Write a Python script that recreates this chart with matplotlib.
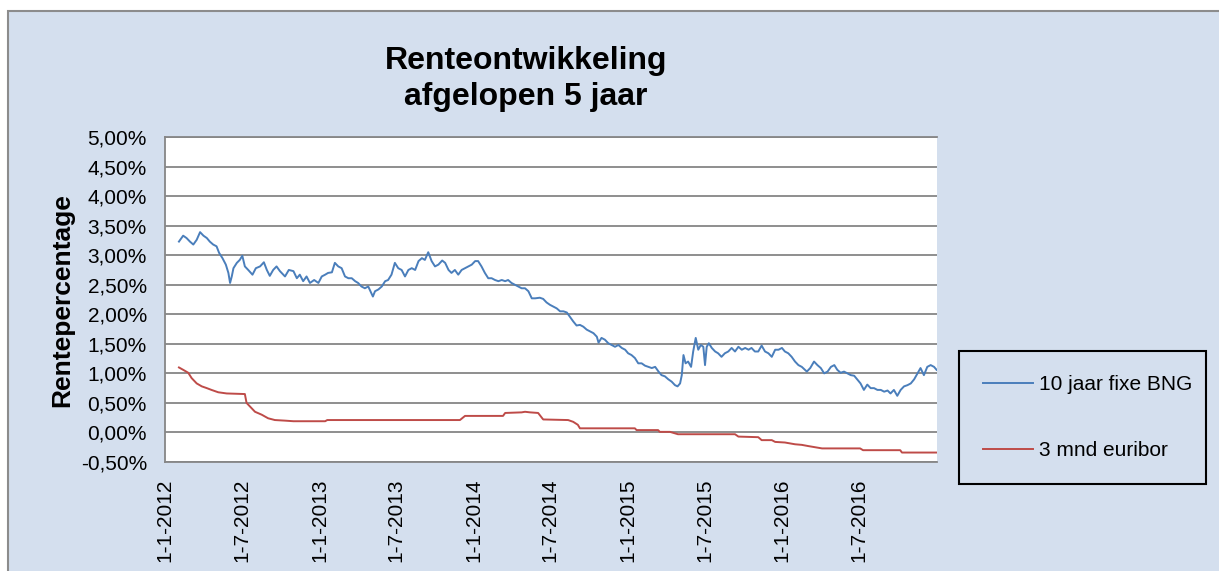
import numpy as np
import pandas as pd
import matplotlib
matplotlib.use("Agg")
import matplotlib.pyplot as plt
from matplotlib.patches import Rectangle
from matplotlib.ticker import FuncFormatter

plt.rcParams['font.family'] = ['Liberation Sans', 'DejaVu Sans']

# days since 1-1-2012 and rate in %
bng_days = [33, 43, 51, 59, 67, 75, 83, 91, 99, 106, 114, 122, 128, 136, 144, 150, 154, 158, 162, 170,
            177, 183, 189, 197, 207, 215, 225, 234, 241, 248, 256, 264, 272, 284, 293, 304, 312, 319, 327, 335,
            343, 353, 363, 371, 379, 386, 395, 402, 410, 418, 426, 434, 442, 450, 457, 465, 473, 481, 492, 497,
            505, 513, 521, 528, 536, 544, 552, 560, 568, 576, 584, 592, 600, 608, 615, 623, 631, 639, 647, 656,
            663, 671, 678, 686, 694, 702, 710, 718, 726, 734, 741, 749, 757, 765, 773, 781, 789, 797, 805, 812,
            820, 828, 836, 844, 852, 860, 868, 876, 887, 895, 903, 911, 919, 927, 935, 943, 951, 958, 966, 974,
            982, 990, 998, 1006, 1014, 1022, 1026, 1033, 1041, 1049, 1057, 1065, 1073, 1081, 1089, 1096, 1104, 1112, 1120, 1128,
            1136, 1144, 1152, 1160, 1168, 1175, 1183, 1191, 1199, 1207, 1213, 1219, 1223, 1227, 1232, 1238, 1245, 1250, 1256, 1262,
            1268, 1274, 1278, 1282, 1287, 1294, 1302, 1309, 1317, 1325, 1333, 1341, 1349, 1357, 1365, 1373, 1381, 1388, 1396, 1404,
            1412, 1420, 1428, 1436, 1444, 1452, 1460, 1467, 1475, 1483, 1491, 1499, 1507, 1519, 1527, 1536, 1544, 1552, 1560, 1568,
            1576, 1584, 1591, 1599, 1607, 1615, 1623, 1631, 1639, 1646, 1654, 1662, 1670, 1678, 1686, 1694, 1702, 1710, 1717, 1725,
            1733, 1741, 1749, 1757, 1765, 1773, 1781, 1788, 1796, 1804, 1812, 1820, 1826]
bng_rate = [3.23, 3.33, 3.29, 3.23, 3.18, 3.26, 3.39, 3.33, 3.29, 3.23, 3.18, 3.15, 3.04, 2.95, 2.84, 2.70, 2.53, 2.64, 2.78, 2.87,
            2.92, 2.99, 2.81, 2.75, 2.67, 2.78, 2.81, 2.88, 2.75, 2.65, 2.75, 2.81, 2.73, 2.64, 2.75, 2.73, 2.61, 2.67, 2.56, 2.64,
            2.53, 2.58, 2.53, 2.64, 2.67, 2.70, 2.71, 2.87, 2.81, 2.78, 2.64, 2.61, 2.61, 2.56, 2.53, 2.47, 2.44, 2.47, 2.30, 2.39,
            2.42, 2.47, 2.56, 2.58, 2.67, 2.87, 2.78, 2.75, 2.64, 2.75, 2.78, 2.75, 2.90, 2.95, 2.92, 3.05, 2.90, 2.81, 2.84, 2.91,
            2.87, 2.75, 2.70, 2.75, 2.67, 2.75, 2.78, 2.81, 2.84, 2.90, 2.90, 2.81, 2.70, 2.61, 2.61, 2.58, 2.56, 2.58, 2.56, 2.58,
            2.53, 2.50, 2.47, 2.44, 2.44, 2.39, 2.27, 2.27, 2.28, 2.26, 2.20, 2.16, 2.13, 2.10, 2.05, 2.05, 2.03, 1.96, 1.88, 1.81,
            1.82, 1.79, 1.74, 1.71, 1.68, 1.62, 1.52, 1.60, 1.57, 1.51, 1.48, 1.45, 1.48, 1.43, 1.40, 1.34, 1.31, 1.26, 1.17, 1.17,
            1.13, 1.11, 1.09, 1.11, 1.03, 0.97, 0.95, 0.90, 0.86, 0.80, 0.78, 0.83, 0.97, 1.31, 1.17, 1.20, 1.11, 1.37, 1.60, 1.40,
            1.48, 1.45, 1.14, 1.45, 1.51, 1.43, 1.37, 1.34, 1.28, 1.34, 1.37, 1.43, 1.37, 1.45, 1.40, 1.43, 1.40, 1.43, 1.37, 1.37,
            1.47, 1.37, 1.34, 1.28, 1.40, 1.40, 1.43, 1.37, 1.34, 1.28, 1.20, 1.14, 1.11, 1.03, 1.09, 1.20, 1.14, 1.09, 1.00, 1.03,
            1.11, 1.14, 1.06, 1.01, 1.03, 1.00, 0.97, 0.96, 0.89, 0.83, 0.72, 0.81, 0.75, 0.75, 0.72, 0.72, 0.69, 0.71, 0.66, 0.72,
            0.62, 0.72, 0.78, 0.80, 0.83, 0.90, 1.00, 1.09, 0.97, 1.11, 1.14, 1.11, 1.06]

eur_days = [33, 43, 55, 63, 75, 87, 99, 110, 126, 146, 189, 193, 201, 213, 229, 244, 260, 284, 304, 379,
            384, 698, 710, 800, 805, 844, 852, 864, 883, 895, 954, 966, 977, 982, 1112, 1116, 1167, 1171, 1195, 1214,
            1349, 1357, 1404, 1412, 1436, 1444, 1467, 1491, 1507, 1522, 1555, 1645, 1652, 1740, 1744, 1826]
eur_rate = [1.10, 1.06, 1.01, 0.92, 0.83, 0.78, 0.75, 0.72, 0.68, 0.66, 0.65, 0.50, 0.44, 0.35, 0.30, 0.24, 0.21, 0.20, 0.19, 0.19,
            0.21, 0.21, 0.28, 0.28, 0.33, 0.34, 0.35, 0.34, 0.33, 0.22, 0.21, 0.18, 0.13, 0.07, 0.07, 0.04, 0.04, 0.01, 0.01, -0.03,
            -0.03, -0.07, -0.08, -0.13, -0.13, -0.16, -0.17, -0.20, -0.21, -0.23, -0.27, -0.27, -0.30, -0.30, -0.34, -0.34]

start = pd.Timestamp('2012-01-01')
bng_dates = start + pd.to_timedelta(bng_days, unit='D')
eur_dates = start + pd.to_timedelta(eur_days, unit='D')
tick_dates = pd.date_range('2012-01-01', '2016-07-01', freq='6MS')

bg = '#D4DFEE'
fig = plt.figure(figsize=(12.19, 5.71), dpi=100)
fig.patch.set_facecolor('white')
fig.add_artist(Rectangle((8 / 1219, -0.02), 1.1, 1 - 11 / 571 + 0.02, transform=fig.transFigure,
                         facecolor=bg, edgecolor='#8C8C8C', linewidth=1.5, zorder=-10))

ax = fig.add_axes([165 / 1219, 109 / 571, 772 / 1219, 325 / 571])
ax.set_facecolor('white')

ax.plot(bng_dates, bng_rate, color='#4A7EBB', linewidth=1.4, label='10 jaar fixe BNG')
ax.plot(eur_dates, eur_rate, color='#BE4B48', linewidth=1.4, label='3 mnd euribor')

ax.set_ylim(-0.5, 5.0)
ax.set_yticks(np.arange(-0.5, 5.01, 0.5))
ax.yaxis.set_major_formatter(FuncFormatter(lambda v, p: ('%.2f%%' % v).replace('.', ',')))
ax.set_xlim(pd.Timestamp('2012-01-01'), pd.Timestamp('2017-01-01'))
ax.set_xticks(tick_dates)
ax.set_xticklabels(['%d-%d-%d' % (d.day, d.month, d.year) for d in tick_dates], rotation=90, va='top')

ax.grid(axis='y', color='#868686', linewidth=1.3)
ax.set_axisbelow(True)
ax.tick_params(axis='both', length=0, labelsize=15, colors='black')
ax.tick_params(axis='y', pad=13)
ax.tick_params(axis='x', pad=12)
for s in ['left', 'bottom', 'top']:
    ax.spines[s].set_color('#868686')
    ax.spines[s].set_linewidth(1.3)
ax.spines['right'].set_visible(False)

fig.text(526 / 1219, 1 - 79 / 571, 'Renteontwikkeling\nafgelopen 5 jaar', ha='center', va='center',
         fontsize=23, fontweight='bold', linespacing=1.3)
fig.text(62 / 1219, 1 - 300 / 571, 'Rentepercentage', rotation=90, ha='center', va='center',
         fontsize=19, fontweight='bold')

leg = ax.legend(loc='upper left', bbox_to_anchor=(959 / 1219, 1 - 351 / 571, 247 / 1219, 0),
                bbox_transform=fig.transFigure, mode='expand', borderaxespad=0, fontsize=15,
                frameon=True, fancybox=False, edgecolor='black', facecolor=bg, framealpha=1,
                handlelength=2.4, handletextpad=0.3, labelspacing=2.25, borderpad=1.15)
leg.get_frame().set_linewidth(1.5)

fig.savefig('out.png', dpi=100, facecolor=fig.get_facecolor())
